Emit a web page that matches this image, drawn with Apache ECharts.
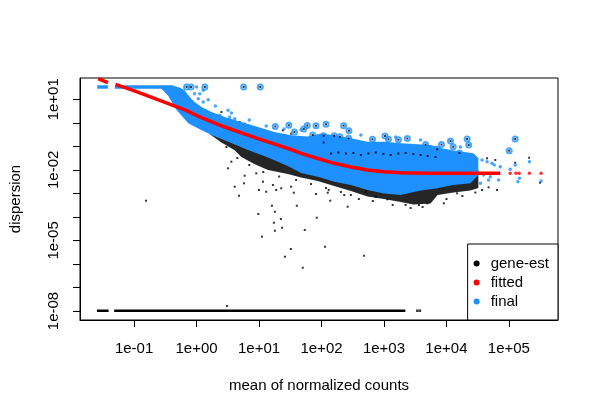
<!DOCTYPE html>
<html><head><meta charset="utf-8">
<script src="https://cdn.jsdelivr.net/npm/echarts@6/dist/echarts.min.js"></script>
<style>html,body{margin:0;padding:0;background:#fff}#c{width:600px;height:418px}</style>
</head><body><div id="c"></div>
<script>
// All values are log10(mean of normalized counts) and log10(dispersion)
const xTicks = [-1, 0, 1, 2, 3, 4, 5];
const yTicks = [-8, -7, -6, -5, -4, -3, -2, -1, 0, 1];
const yLabels = [-8, -5, -2, 1];

// fitted trend (red), two runs of genes
const fitAX = [-1.574, -1.419];
const fitAY = [1.876, 1.706];
const fitBX = [-1.297, -1.016, -0.802, -0.590, -0.378, -0.165, 0.020, 0.451, 0.983, 1.514, 1.673, 1.940, 2.204, 2.470, 2.737, 3.001, 3.268, 3.746, 4.862];
const fitBY = [1.638, 1.383, 1.170, 0.957, 0.745, 0.532, 0.290, -0.178, -0.675, -1.134, -1.296, -1.517, -1.721, -1.878, -2.006, -2.083, -2.125, -2.146, -2.146];
const fitSparseX = [5.021, 5.112, 5.165, 5.328, 5.515];
const fitSparseY = [-2.146, -2.146, -2.146, -2.146, -2.146];

// final (blue): genes at maximum dispersion
const finalMaxRuns = [[-1.590, -1.419], [-1.308, -0.370]];
const finalMaxY = 1.523;
// final: dense cloud outline
const finalCloudX = [-0.558, -0.367, -0.271, -0.192, -0.112, -0.032, 0.079, 0.238, 0.451, 0.717, 0.983, 1.248, 1.514, 1.780, 1.992, 2.231, 2.470, 2.737, 3.001, 3.268, 3.746, 3.905, 4.112, 4.431, 4.511, 4.511,
  4.383, 4.112, 3.853, 3.586, 3.268, 3.001, 2.737, 2.470, 2.204, 1.940, 1.673, 1.461, 1.143, 0.824, 0.505, 0.239, 0.027, -0.133, -0.319, -0.452, -0.558];
const finalCloudY = [1.566, 1.566, 1.502, 1.383, 1.098, 0.885, 0.673, 0.460, 0.247, 0.035, -0.178, -0.390, -0.531, -0.582, -0.454, -0.539, -0.658, -0.803, -0.803, -0.871, -0.943, -1.071, -1.177, -1.296, -1.496, -2.219,
  -2.571, -2.644, -2.784, -2.878, -3.069, -3.005, -2.856, -2.644, -2.503, -2.291, -2.134, -1.836, -1.474, -1.156, -0.803, -0.518, -0.241, -0.020, 0.545, 1.140, 1.438];
// final: scattered genes
const finalPtsX = [0.000, 0.052, 0.106, 0.186, 0.027, 0.106, 0.505, 0.371, 0.530, 0.610, 0.903, 1.063, 1.195, -0.032, -0.139, -0.112,
  -0.240, 0.302, 0.558, 0.844, 1.115, 1.402, 1.673, 2.630, 3.188, 3.586, 4.224,
  4.570, 4.650, 4.729, 4.766, 4.862, 5.021, 5.101, 5.329, 5.169, 5.144, 5.515, 4.595, 4.675, 4.835, 4.543, 4.702];
const finalPtsY = [1.523, 1.238, 1.383, 0.983, 1.026, 0.885, 0.532, 0.320, 0.247, 0.175, -0.318, -0.390, -0.463, 1.238, 1.098, 0.957,
  1.226, 0.715, 0.418, 0.120, -0.135, -0.263, -0.305, -0.518, -0.603, -0.730, -1.028,
  -1.581, -1.653, -1.721, -1.793, -1.866, -1.976, -1.793, -1.653, -2.359, -2.503, -2.474, -2.219, -2.431, -2.431, -2.571, -2.291];
// dispersion outliers (final = gene-est, circled)
const outX = [-0.160, -0.088, 0.132, 0.754, 1.020, 1.259, 1.477, 1.567, 1.716, 1.772, 1.912, 2.072, 2.354, 2.439, 1.860, 2.035, 2.035, 2.204, 2.295, 2.434, 2.816, 3.017, 3.071, 3.231, 3.374, 3.666, 3.853, 3.921, 4.065, 4.108, 4.208, 4.331, 4.356, 5.005, 5.101];
const outY = [1.523, 1.523, 1.523, 1.523, 1.523, -0.156, -0.105, -0.390, -0.263, -0.114, -0.122, -0.063, -0.122, -0.335, -0.518, -0.548, -0.837, -0.548, -0.590, -0.658, -0.701, -0.560, -0.701, -0.718, -0.667, -0.922, -1.126, -0.922, -0.773, -1.015, -1.283, -0.688, -0.943, -1.185, -0.688];

// gene-est (black): dense cloud outline below the final cloud
const geneCloudX = [0.207, 0.398, 0.605, 0.717, 0.924, 1.143, 1.461, 1.673, 1.940, 2.204, 2.470, 2.737, 3.001, 3.268, 3.475, 3.746, 3.858, 4.112, 4.383, 4.511, 4.511, 3.268, 1.673, 0.877, 0.207];
const geneCloudY = [-0.475, -0.837, -1.156, -1.453, -1.751, -2.006, -2.176, -2.325, -2.474, -2.686, -2.899, -3.133, -3.239, -3.366, -3.473, -3.430, -3.069, -2.963, -2.878, -2.771, -2.006, -2.430, -1.581, -0.730, -0.220];
// gene-est: scattered genes
const genePtsX = [-0.809, 0.489, 0.680, 0.999, 1.115, 1.275, 1.557, 1.206, 0.988, 1.254, 1.350, 1.238, 1.370, 1.254, 1.605, 1.047, 1.732, 1.509, 1.414, 1.700,
  1.912, 2.099, 2.140, 2.418, 1.924, 2.056, 2.682, 0.610, 0.760, 1.063, 1.222, 1.355, 1.514, 0.505, 0.557, 0.770, 0.956,
  2.710, 2.869, 3.055, 3.347, 3.559, 3.693, 3.958, 4.171, 4.570, 4.809, 2.470, 2.364, 2.115,
  0.318, 0.398, 0.690, 0.770, 0.849, 0.957, 1.088, 1.382, 1.514, 1.621,
  4.650, 4.782, 5.101, 5.324, 5.499, 4.675,
  0.478, 0.653, 0.844, 1.068, 1.322, 1.594, 1.833, 2.072, 2.311, 2.598, 2.821, 3.140, 3.427, 3.618, 4.001, 4.256, 4.463];
const genePtsY = [-3.311, -7.788, -3.099, -2.856, -2.929, -2.856, -2.971, -3.524, -3.877, -3.779, -4.089, -4.247, -4.459, -4.587, -3.524, -4.842, -4.557, -5.365, -5.692, -6.160,
  -3.026, -2.971, -3.311, -3.566, -4.034, -5.267, -5.650, -2.716, -2.571, -2.503, -2.644, -2.784, -2.716, -1.934, -1.653, -2.248, -2.146,
  -2.929, -3.141, -3.252, -3.494, -3.494, -3.422, -3.422, -2.997, -2.856, -2.856, -3.069, -3.069, -2.856,
  0.320, 0.460, 0.035, -0.037, -0.250, -0.318, -0.531, -0.318, -0.463, -0.675,
  -1.508, -1.581, -1.696, -1.483, -2.546, -2.741,
  -1.028, -1.496, -1.794, -2.091, -2.282, -2.431, -2.601, -2.771, -2.941, -3.239, -3.324, -3.494, -3.622, -3.579, -3.239, -3.112, -2.963];
// gene-est seen through a thin gap inside the final cloud
const geneStripeX = [2.152, 2.270, 2.391, 2.510, 2.630, 2.750, 2.869, 2.990, 3.108, 3.230, 3.347, 3.470, 3.586, 3.700, 3.826];
const geneStripeY = [-1.304, -1.262, -1.304, -1.283, -1.368, -1.304, -1.262, -1.326, -1.368, -1.304, -1.283, -1.326, -1.368, -1.410, -1.453];
// gene-est at the minimum dispersion (1e-08)
const geneMinRuns = [[-1.595, -1.408], [-1.319, 3.342]];
const geneMinPtsX = [3.534, 3.575];
const geneMinY = -7.988;

const BLUE = '#1E90FF', RED = '#FF0000', BLACK = '#000000';
const FONT = 'Liberation Sans, Arial, sans-serif';
const fmt = v => { const e = Math.round(v); return '1e' + (e < 0 ? '-' : '+') + String(Math.abs(e)).padStart(2, '0'); };
const pairs = (xs, ys) => xs.map((x, i) => [x, ys[i]]);

function polygonSeries(name, xs, ys, color, z, opacity) {
  return {
    type: 'custom', name: name, z: z, silent: true, clip: true,
    data: pairs(xs, ys),
    renderItem: function (params, api) {
      if (params.dataIndex !== 0) return null;
      const pts = xs.map((x, i) => api.coord([x, ys[i]]));
      return { type: 'polygon', shape: { points: pts }, style: { fill: color, opacity: opacity } };
    }
  };
}
function runSeries(name, x0, x1, y, color, width, z) {
  return { type: 'line', name: name, z: z, silent: true, symbol: 'none', data: [[x0, y], [x1, y]], lineStyle: { color: color, width: width } , itemStyle: { color: color } };
}

const series = [];
series.push(polygonSeries('gene-est', geneCloudX, geneCloudY, BLACK, 1, 0.85));
series.push({ type: 'scatter', name: 'gene-est', z: 1, symbol: 'rect', symbolSize: 2, itemStyle: { color: BLACK }, data: pairs(genePtsX, genePtsY) });
geneMinRuns.forEach(r => series.push(runSeries('gene-est', r[0], r[1], geneMinY, BLACK, 2.5, 1)));
series.push({ type: 'scatter', name: 'gene-est', z: 1, symbol: 'rect', symbolSize: 2.5, itemStyle: { color: BLACK }, data: geneMinPtsX.map(x => [x, geneMinY]) });

series.push(polygonSeries('final', finalCloudX, finalCloudY, BLUE, 2, 1));
finalMaxRuns.forEach(r => series.push(runSeries('final', r[0], r[1], finalMaxY, BLUE, 3.5, 2)));
series.push({ type: 'scatter', name: 'final', z: 2, symbol: 'circle', symbolSize: 3.5, itemStyle: { color: BLUE }, data: pairs(finalPtsX, finalPtsY) });

series.push({ type: 'scatter', name: 'gene-est', z: 3, symbol: 'rect', symbolSize: 2, itemStyle: { color: BLACK }, data: pairs(geneStripeX, geneStripeY) });
series.push({ type: 'scatter', name: 'gene-est', z: 3, symbol: 'rect', symbolSize: 2, itemStyle: { color: BLACK }, data: pairs(outX, outY) });
series.push({ type: 'scatter', name: 'final', z: 4, symbol: 'circle', symbolSize: 5, itemStyle: { color: 'rgba(0,0,0,0)', borderColor: BLUE, borderWidth: 2 }, data: pairs(outX, outY) });

series.push({ type: 'line', name: 'fitted', z: 5, silent: true, symbol: 'none', data: pairs(fitAX, fitAY), lineStyle: { color: RED, width: 3.5 }, itemStyle: { color: RED } });
series.push({ type: 'line', name: 'fitted', z: 5, silent: true, symbol: 'none', data: pairs(fitBX, fitBY), lineStyle: { color: RED, width: 3.5 }, itemStyle: { color: RED } });
series.push({ type: 'scatter', name: 'fitted', z: 5, symbol: 'circle', symbolSize: 3.5, itemStyle: { color: RED }, data: pairs(fitSparseX, fitSparseY) });

const chart = echarts.init(document.getElementById('c'), null, { renderer: 'canvas' });
chart.setOption({
  animation: false,
  backgroundColor: '#fff',
  textStyle: { fontFamily: FONT },
  grid: { left: 78, right: 42, top: 78, bottom: 98, show: true, borderColor: '#000', borderWidth: 1, containLabel: false },
  xAxis: {
    type: 'value', min: -1.866, max: 5.786,
    name: 'mean of normalized counts', nameLocation: 'middle', nameGap: 58,
    nameTextStyle: { fontSize: 15, color: '#000', fontFamily: FONT },
    axisLine: { show: true, onZero: false, lineStyle: { color: '#000', width: 1 } },
    axisTick: { show: true, inside: false, length: 7, customValues: xTicks, lineStyle: { color: '#000' } },
    axisLabel: { show: true, customValues: xTicks, formatter: fmt, margin: 21, fontSize: 15, color: '#000', fontFamily: FONT },
    splitLine: { show: false }
  },
  yAxis: {
    type: 'value', min: -8.383, max: 1.906,
    name: 'dispersion', nameLocation: 'middle', nameGap: 57, nameRotate: 90,
    nameTextStyle: { fontSize: 15, color: '#000', fontFamily: FONT },
    axisLine: { show: true, onZero: false, lineStyle: { color: '#000', width: 1 } },
    axisTick: { show: true, inside: false, length: 7, customValues: yTicks, lineStyle: { color: '#000' } },
    axisLabel: { show: true, customValues: yLabels, formatter: fmt, rotate: 90, margin: 19, fontSize: 15, color: '#000', fontFamily: FONT },
    splitLine: { show: false }
  },
  legend: {
    orient: 'vertical', right: 42, bottom: 98, selectedMode: false,
    data: [
      { name: 'gene-est', icon: 'circle', itemStyle: { color: BLACK } },
      { name: 'fitted', icon: 'circle', itemStyle: { color: RED } },
      { name: 'final', icon: 'circle', itemStyle: { color: BLUE } }
    ],
    itemWidth: 18, itemHeight: 6, itemGap: 4,
    textStyle: { fontSize: 15, color: '#000', fontFamily: FONT },
    borderColor: '#000', borderWidth: 1, backgroundColor: '#fff', padding: [12, 9, 11, 6]
  },
  series: series
});
</script>
</body></html>
